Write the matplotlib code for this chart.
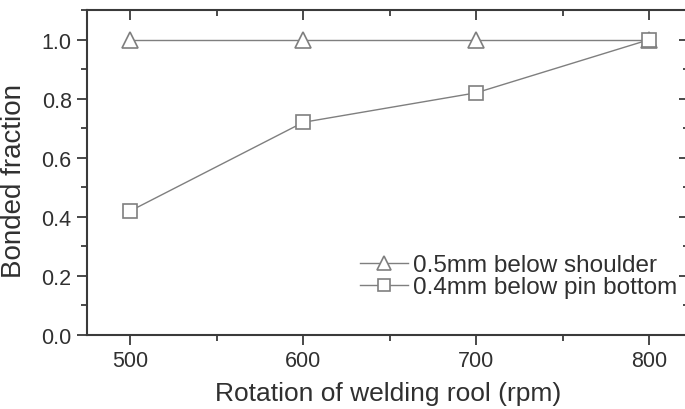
import matplotlib
matplotlib.use("Agg")
import matplotlib.pyplot as plt
from matplotlib.ticker import MultipleLocator

plt.rcParams['font.family'] = ['Liberation Sans', 'DejaVu Sans']

rpm = [500, 600, 700, 800]
shoulder = [1.0, 1.0, 1.0, 1.0]
pin_bottom = [0.42, 0.72, 0.82, 1.0]
x_ticks = [500, 600, 700, 800]
y_ticks = [0.0, 0.2, 0.4, 0.6, 0.8, 1.0]

line_col = '#7f7f7f'
axis_col = '#3a3a3a'
text_col = '#303030'

fig = plt.figure(figsize=(6.85, 4.10), dpi=100)
ax = fig.add_axes([0.127, 0.1805, 0.879, 0.7925])

ax.plot(rpm, shoulder, color=line_col, lw=1.0, marker='^', markersize=12,
        markerfacecolor='white', markeredgecolor=line_col, markeredgewidth=1.2,
        label='0.5mm below shoulder', zorder=3)
ax.plot(rpm, pin_bottom, color=line_col, lw=1.0, marker='s', markersize=10,
        markerfacecolor='white', markeredgecolor=line_col, markeredgewidth=1.2,
        label='0.4mm below pin bottom', zorder=3)

ax.set_xlim(475, 823)
ax.set_ylim(0, 1.1)
ax.set_xticks(x_ticks)
ax.set_yticks(y_ticks)
ax.set_yticklabels([f'{v:.1f}' for v in y_ticks])
ax.xaxis.set_minor_locator(MultipleLocator(50))
ax.yaxis.set_minor_locator(MultipleLocator(0.1))

for s in ax.spines.values():
    s.set_color(axis_col)
    s.set_linewidth(1.5)

ax.tick_params(which='both', direction='out', colors=axis_col, width=1.3,
               labelsize=15.5, labelcolor=text_col, pad=4)
ax.tick_params(which='major', length=7)
ax.tick_params(which='minor', length=4)

# mirrored inward ticks on top and right
top = ax.secondary_xaxis('top')
top.set_xticks(x_ticks)
top.xaxis.set_minor_locator(MultipleLocator(50))
top.tick_params(which='both', direction='in', colors=axis_col, width=1.3, labeltop=False)
top.tick_params(which='major', length=7)
top.tick_params(which='minor', length=4)
top.spines['top'].set_visible(False)

right = ax.secondary_yaxis('right')
right.set_yticks(y_ticks)
right.yaxis.set_minor_locator(MultipleLocator(0.1))
right.tick_params(which='both', direction='in', colors=axis_col, width=1.3, labelright=False)
right.tick_params(which='major', length=7)
right.tick_params(which='minor', length=4)
right.spines['right'].set_visible(False)

ax.set_xlabel('Rotation of welding rool (rpm)', fontsize=19, color=text_col, labelpad=7)
ax.set_ylabel('Bonded fraction', fontsize=20, color=text_col)
ax.yaxis.set_label_coords(-0.099, 0.477)

leg = ax.legend(loc='lower right', bbox_to_anchor=(0.997, 0.083), frameon=False,
                fontsize=17.5, handlelength=2.0, handletextpad=0.2,
                labelspacing=0.0, borderaxespad=0.0, markerscale=0.8)
for t in leg.get_texts():
    t.set_color(text_col)

fig.savefig('out.png', dpi=100)
